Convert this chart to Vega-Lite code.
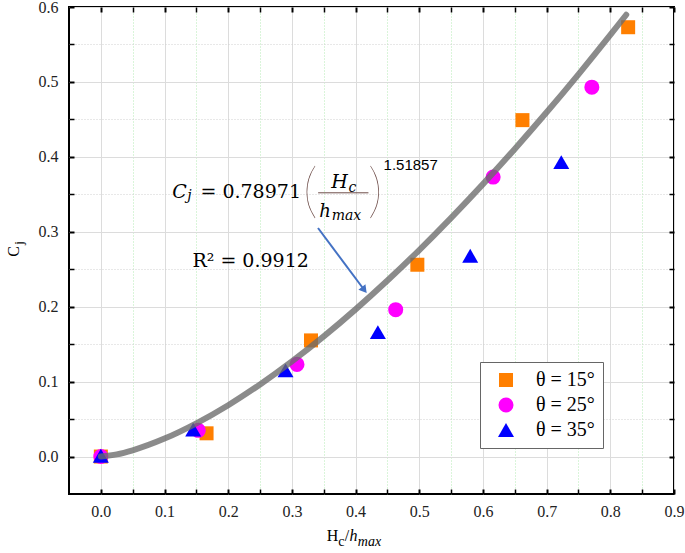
{
  "$schema": "https://vega.github.io/schema/vega-lite/v6.json",
  "width": 605,
  "height": 487,
  "autosize": "none",
  "padding": {"left": 69, "top": 7, "right": 11, "bottom": 59},
  "background": "white",
  "config": {"view": {"stroke": "black", "strokeWidth": 2}, "font": "Liberation Serif"},
  "datasets": {
    "points": [
      {"x": 0.0, "y": 0.0, "theta": "θ = 15°"},
      {"x": 0.166, "y": 0.031, "theta": "θ = 15°"},
      {"x": 0.33, "y": 0.155, "theta": "θ = 15°"},
      {"x": 0.497, "y": 0.256, "theta": "θ = 15°"},
      {"x": 0.662, "y": 0.449, "theta": "θ = 15°"},
      {"x": 0.828, "y": 0.573, "theta": "θ = 15°"},
      {"x": 0.0, "y": 0.0, "theta": "θ = 25°"},
      {"x": 0.153, "y": 0.035, "theta": "θ = 25°"},
      {"x": 0.308, "y": 0.123, "theta": "θ = 25°"},
      {"x": 0.463, "y": 0.196, "theta": "θ = 25°"},
      {"x": 0.616, "y": 0.373, "theta": "θ = 25°"},
      {"x": 0.771, "y": 0.493, "theta": "θ = 25°"},
      {"x": 0.0, "y": 0.001, "theta": "θ = 35°"},
      {"x": 0.145, "y": 0.036, "theta": "θ = 35°"},
      {"x": 0.29, "y": 0.115, "theta": "θ = 35°"},
      {"x": 0.435, "y": 0.166, "theta": "θ = 35°"},
      {"x": 0.58, "y": 0.268, "theta": "θ = 35°"},
      {"x": 0.723, "y": 0.393, "theta": "θ = 35°"}
    ],
    "fit": [
      {"x": 0.0, "y": 0.0},
      {"x": 0.025, "y": 0.00292},
      {"x": 0.05, "y": 0.00835},
      {"x": 0.1, "y": 0.02393},
      {"x": 0.15, "y": 0.04429},
      {"x": 0.2, "y": 0.06854},
      {"x": 0.25, "y": 0.09619},
      {"x": 0.3, "y": 0.12689},
      {"x": 0.35, "y": 0.16034},
      {"x": 0.4, "y": 0.19642},
      {"x": 0.45, "y": 0.23488},
      {"x": 0.5, "y": 0.27563},
      {"x": 0.55, "y": 0.31856},
      {"x": 0.6, "y": 0.36356},
      {"x": 0.65, "y": 0.41056},
      {"x": 0.7, "y": 0.45945},
      {"x": 0.75, "y": 0.51019},
      {"x": 0.8, "y": 0.56275},
      {"x": 0.825, "y": 0.58967}
    ],
    "notes": [
      {"x": 0.112, "y": 0.345, "label": "C", "part": "it"},
      {"x": 0.3618, "y": 0.3587, "label": "H", "part": "it"},
      {"x": 0.3428, "y": 0.32, "label": "h", "part": "ith"},
      {"x": 0.1355, "y": 0.3427, "label": "j", "part": "sub"},
      {"x": 0.389, "y": 0.3533, "label": "c", "part": "sub"},
      {"x": 0.3625, "y": 0.316, "label": "max", "part": "sub"},
      {"x": 0.1564, "y": 0.345, "label": "= 0.78971", "part": "txt"},
      {"x": 0.1438, "y": 0.2533, "label": "R² = 0.9912", "part": "txt"},
      {"x": 0.329, "y": 0.3513, "label": "(", "part": "paren"},
      {"x": 0.431, "y": 0.3513, "label": ")", "part": "paren"},
      {"x": 0.4439, "y": 0.3827, "label": "1.51857", "part": "sup"},
      {"x": 0.3548, "y": -0.1133, "label": "H", "part": "xt"},
      {"x": 0.383, "y": -0.1133, "label": "/", "part": "xt"},
      {"x": 0.3728, "y": -0.12, "label": "c", "part": "xtsub"},
      {"x": 0.3905, "y": -0.1133, "label": "h", "part": "xtit"},
      {"x": 0.4035, "y": -0.12, "label": "max", "part": "xtitsub"}
    ],
    "ytitle": [
      {"x": -0.128, "y": 0.2667, "label": "C", "part": "yt"},
      {"x": -0.123, "y": 0.2827, "label": "j", "part": "ytsub"}
    ],
    "frac": [{"x": 0.3412, "x2": 0.4202, "y": 0.352}],
    "arrow": [{"x": 0.341, "y": 0.305, "x2": 0.4137, "y2": 0.2223}]
  },
  "layer": [
    {
      "data": {"name": "points"},
      "mark": {"type": "point", "filled": true, "opacity": 1},
      "encoding": {
        "x": {
          "field": "x", "type": "quantitative",
          "scale": {"domain": [-0.05, 0.9], "nice": false, "zero": false},
          "axis": {
            "orient": "bottom", "title": null, "domain": false,
            "values": [0, 0.05, 0.1, 0.15, 0.2, 0.25, 0.3, 0.35, 0.4, 0.45, 0.5, 0.55, 0.6, 0.65, 0.7, 0.75, 0.8, 0.85, 0.9],
            "labelExpr": "abs(datum.value*10 - round(datum.value*10)) < 0.25 ? format(datum.value, '.1f') : ''",
            "labelFlush": false, "labelOverlap": false,
            "labelFont": "Liberation Serif", "labelFontSize": 16, "labelColor": "#222222", "labelPadding": 14,
            "tickSize": -5, "tickColor": "black",
            "tickWidth": {"condition": {"test": "abs(datum.value*10 - round(datum.value*10)) > 0.25", "value": 1.5}, "value": 2},
            "grid": true,
            "gridColor": {"condition": {"test": "abs(datum.value*10 - round(datum.value*10)) > 0.25", "value": "#b5eab5"}, "value": "#dcdcdc"},
            "gridDash": {"condition": {"test": "abs(datum.value*10 - round(datum.value*10)) > 0.25", "value": [1, 2]}, "value": []},
            "gridWidth": 1
          }
        },
        "y": {
          "field": "y", "type": "quantitative",
          "scale": {"domain": [-0.05, 0.6], "nice": false, "zero": false},
          "axis": {
            "orient": "left", "title": null, "domain": false,
            "values": [0, 0.05, 0.1, 0.15, 0.2, 0.25, 0.3, 0.35, 0.4, 0.45, 0.5, 0.55, 0.6],
            "labelExpr": "abs(datum.value*10 - round(datum.value*10)) < 0.25 ? format(datum.value, '.1f') : ''",
            "labelFlush": false, "labelOverlap": false,
            "labelFont": "Liberation Serif", "labelFontSize": 16, "labelColor": "#222222", "labelPadding": 16,
            "tickSize": -5, "tickColor": "black",
            "tickWidth": {"condition": {"test": "abs(datum.value*10 - round(datum.value*10)) > 0.25", "value": 1.5}, "value": 2},
            "grid": true,
            "gridColor": {"condition": {"test": "abs(datum.value*10 - round(datum.value*10)) > 0.25", "value": "#d0d0d0"}, "value": "#dcdcdc"},
            "gridDash": {"condition": {"test": "abs(datum.value*10 - round(datum.value*10)) > 0.25", "value": [1, 2]}, "value": []},
            "gridWidth": 1
          }
        },
        "color": {
          "field": "theta", "type": "nominal",
          "scale": {"domain": ["θ = 15°", "θ = 25°", "θ = 35°"], "range": ["#ff7f00", "#ff00ff", "#0000ff"]},
          "legend": {
            "title": null, "orient": "none", "legendX": 411, "legendY": 355, "direction": "vertical",
            "strokeColor": "#666666", "fillColor": "white", "padding": 8,
            "labelFont": "Liberation Serif", "labelFontSize": 20, "labelColor": "black",
            "rowPadding": 5, "labelOffset": 20, "symbolOffset": 8, "symbolStrokeWidth": 0, "symbolOpacity": 1
          }
        },
        "shape": {
          "field": "theta", "type": "nominal",
          "scale": {"domain": ["θ = 15°", "θ = 25°", "θ = 35°"], "range": ["square", "circle", "triangle-up"]}
        },
        "size": {
          "field": "theta", "type": "nominal",
          "scale": {"domain": ["θ = 15°", "θ = 25°", "θ = 35°"], "range": [196, 256, 324]}
        }
      }
    },
    {
      "data": {"name": "fit"},
      "mark": {"type": "line", "color": "#6a6a6a", "strokeWidth": 6, "opacity": 0.78, "strokeCap": "round", "interpolate": "monotone"},
      "encoding": {
        "x": {
          "field": "x", "type": "quantitative",
          "scale": {"domain": [-0.05, 0.9], "nice": false, "zero": false},
          "axis": {
            "orient": "top", "title": null, "domain": false, "labels": false, "grid": false,
            "values": [0, 0.05, 0.1, 0.15, 0.2, 0.25, 0.3, 0.35, 0.4, 0.45, 0.5, 0.55, 0.6, 0.65, 0.7, 0.75, 0.8, 0.85, 0.9],
            "tickSize": -5, "tickColor": "black",
            "tickWidth": {"condition": {"test": "abs(datum.value*10 - round(datum.value*10)) > 0.25", "value": 1.5}, "value": 2}
          }
        },
        "y": {
          "field": "y", "type": "quantitative",
          "scale": {"domain": [-0.05, 0.6], "nice": false, "zero": false},
          "axis": {
            "orient": "right", "title": null, "domain": false, "labels": false, "grid": false,
            "values": [0, 0.05, 0.1, 0.15, 0.2, 0.25, 0.3, 0.35, 0.4, 0.45, 0.5, 0.55, 0.6],
            "tickSize": -5, "tickColor": "black",
            "tickWidth": {"condition": {"test": "abs(datum.value*10 - round(datum.value*10)) > 0.25", "value": 1.5}, "value": 2}
          }
        }
      }
    },
    {
      "data": {"name": "frac"},
      "mark": {"type": "rule", "color": "#6d4c48", "strokeWidth": 1},
      "encoding": {
        "x": {"field": "x", "type": "quantitative", "scale": {"domain": [-0.05, 0.9], "nice": false, "zero": false}, "axis": null},
        "x2": {"field": "x2"},
        "y": {"field": "y", "type": "quantitative", "scale": {"domain": [-0.05, 0.6], "nice": false, "zero": false}, "axis": null}
      }
    },
    {
      "data": {"name": "arrow"},
      "mark": {"type": "rule", "color": "#4472c4", "strokeWidth": 2},
      "encoding": {
        "x": {"field": "x", "type": "quantitative", "scale": {"domain": [-0.05, 0.9], "nice": false, "zero": false}, "axis": null},
        "x2": {"field": "x2"},
        "y": {"field": "y", "type": "quantitative", "scale": {"domain": [-0.05, 0.6], "nice": false, "zero": false}, "axis": null},
        "y2": {"field": "y2"}
      }
    },
    {
      "data": {"name": "arrow"},
      "mark": {"type": "point", "shape": "triangle-up", "filled": true, "color": "#4472c4", "opacity": 1, "size": 80, "angle": 142},
      "encoding": {
        "x": {"field": "x2", "type": "quantitative", "scale": {"domain": [-0.05, 0.9], "nice": false, "zero": false}, "axis": null},
        "y": {"field": "y2", "type": "quantitative", "scale": {"domain": [-0.05, 0.6], "nice": false, "zero": false}, "axis": null}
      }
    },
    {
      "data": {"name": "notes"},
      "transform": [{"filter": "datum.part == 'it'"}],
      "mark": {"type": "text", "font": "DejaVu Serif", "fontStyle": "italic", "fontSize": 19, "align": "left", "baseline": "alphabetic", "color": "black"},
      "encoding": {
        "x": {"field": "x", "type": "quantitative", "scale": {"domain": [-0.05, 0.9], "nice": false, "zero": false}, "axis": null},
        "y": {"field": "y", "type": "quantitative", "scale": {"domain": [-0.05, 0.6], "nice": false, "zero": false}, "axis": null},
        "text": {"field": "label"}
      }
    },
    {
      "data": {"name": "notes"},
      "transform": [{"filter": "datum.part == 'ith'"}],
      "mark": {"type": "text", "font": "DejaVu Serif", "fontStyle": "italic", "fontSize": 18, "align": "left", "baseline": "alphabetic", "color": "black"},
      "encoding": {
        "x": {"field": "x", "type": "quantitative", "scale": {"domain": [-0.05, 0.9], "nice": false, "zero": false}, "axis": null},
        "y": {"field": "y", "type": "quantitative", "scale": {"domain": [-0.05, 0.6], "nice": false, "zero": false}, "axis": null},
        "text": {"field": "label"}
      }
    },
    {
      "data": {"name": "notes"},
      "transform": [{"filter": "datum.part == 'sub'"}],
      "mark": {"type": "text", "font": "DejaVu Serif", "fontStyle": "italic", "fontSize": 14, "align": "left", "baseline": "alphabetic", "color": "black"},
      "encoding": {
        "x": {"field": "x", "type": "quantitative", "scale": {"domain": [-0.05, 0.9], "nice": false, "zero": false}, "axis": null},
        "y": {"field": "y", "type": "quantitative", "scale": {"domain": [-0.05, 0.6], "nice": false, "zero": false}, "axis": null},
        "text": {"field": "label"}
      }
    },
    {
      "data": {"name": "notes"},
      "transform": [{"filter": "datum.part == 'txt'"}],
      "mark": {"type": "text", "font": "DejaVu Serif", "fontSize": 19, "align": "left", "baseline": "alphabetic", "color": "black"},
      "encoding": {
        "x": {"field": "x", "type": "quantitative", "scale": {"domain": [-0.05, 0.9], "nice": false, "zero": false}, "axis": null},
        "y": {"field": "y", "type": "quantitative", "scale": {"domain": [-0.05, 0.6], "nice": false, "zero": false}, "axis": null},
        "text": {"field": "label"}
      }
    },
    {
      "data": {"name": "notes"},
      "transform": [{"filter": "datum.part == 'paren'"}],
      "mark": {"type": "text", "font": "Lato", "fontWeight": 100, "fontSize": 60, "align": "center", "baseline": "middle", "color": "#6d4c48"},
      "encoding": {
        "x": {"field": "x", "type": "quantitative", "scale": {"domain": [-0.05, 0.9], "nice": false, "zero": false}, "axis": null},
        "y": {"field": "y", "type": "quantitative", "scale": {"domain": [-0.05, 0.6], "nice": false, "zero": false}, "axis": null},
        "text": {"field": "label"}
      }
    },
    {
      "data": {"name": "notes"},
      "transform": [{"filter": "datum.part == 'sup'"}],
      "mark": {"type": "text", "font": "Liberation Sans", "fontSize": 15, "align": "left", "baseline": "alphabetic", "color": "black"},
      "encoding": {
        "x": {"field": "x", "type": "quantitative", "scale": {"domain": [-0.05, 0.9], "nice": false, "zero": false}, "axis": null},
        "y": {"field": "y", "type": "quantitative", "scale": {"domain": [-0.05, 0.6], "nice": false, "zero": false}, "axis": null},
        "text": {"field": "label"}
      }
    },
    {
      "data": {"name": "notes"},
      "transform": [{"filter": "datum.part == 'xt'"}],
      "mark": {"type": "text", "font": "Liberation Serif", "fontSize": 16, "align": "left", "baseline": "alphabetic", "color": "black"},
      "encoding": {
        "x": {"field": "x", "type": "quantitative", "scale": {"domain": [-0.05, 0.9], "nice": false, "zero": false}, "axis": null},
        "y": {"field": "y", "type": "quantitative", "scale": {"domain": [-0.05, 0.6], "nice": false, "zero": false}, "axis": null},
        "text": {"field": "label"}
      }
    },
    {
      "data": {"name": "notes"},
      "transform": [{"filter": "datum.part == 'xtsub'"}],
      "mark": {"type": "text", "font": "Liberation Serif", "fontSize": 14, "align": "left", "baseline": "alphabetic", "color": "black"},
      "encoding": {
        "x": {"field": "x", "type": "quantitative", "scale": {"domain": [-0.05, 0.9], "nice": false, "zero": false}, "axis": null},
        "y": {"field": "y", "type": "quantitative", "scale": {"domain": [-0.05, 0.6], "nice": false, "zero": false}, "axis": null},
        "text": {"field": "label"}
      }
    },
    {
      "data": {"name": "notes"},
      "transform": [{"filter": "datum.part == 'xtit'"}],
      "mark": {"type": "text", "font": "Liberation Serif", "fontStyle": "italic", "fontSize": 16, "align": "left", "baseline": "alphabetic", "color": "black"},
      "encoding": {
        "x": {"field": "x", "type": "quantitative", "scale": {"domain": [-0.05, 0.9], "nice": false, "zero": false}, "axis": null},
        "y": {"field": "y", "type": "quantitative", "scale": {"domain": [-0.05, 0.6], "nice": false, "zero": false}, "axis": null},
        "text": {"field": "label"}
      }
    },
    {
      "data": {"name": "notes"},
      "transform": [{"filter": "datum.part == 'xtitsub'"}],
      "mark": {"type": "text", "font": "Liberation Serif", "fontStyle": "italic", "fontSize": 14, "align": "left", "baseline": "alphabetic", "color": "black"},
      "encoding": {
        "x": {"field": "x", "type": "quantitative", "scale": {"domain": [-0.05, 0.9], "nice": false, "zero": false}, "axis": null},
        "y": {"field": "y", "type": "quantitative", "scale": {"domain": [-0.05, 0.6], "nice": false, "zero": false}, "axis": null},
        "text": {"field": "label"}
      }
    },
    {
      "data": {"name": "ytitle"},
      "transform": [{"filter": "datum.part == 'yt'"}],
      "mark": {"type": "text", "font": "Liberation Serif", "fontSize": 16, "align": "left", "baseline": "alphabetic", "angle": 270, "color": "black"},
      "encoding": {
        "x": {"field": "x", "type": "quantitative", "scale": {"domain": [-0.05, 0.9], "nice": false, "zero": false}, "axis": null},
        "y": {"field": "y", "type": "quantitative", "scale": {"domain": [-0.05, 0.6], "nice": false, "zero": false}, "axis": null},
        "text": {"field": "label"}
      }
    },
    {
      "data": {"name": "ytitle"},
      "transform": [{"filter": "datum.part == 'ytsub'"}],
      "mark": {"type": "text", "font": "Liberation Serif", "fontSize": 13, "align": "left", "baseline": "alphabetic", "angle": 270, "color": "black"},
      "encoding": {
        "x": {"field": "x", "type": "quantitative", "scale": {"domain": [-0.05, 0.9], "nice": false, "zero": false}, "axis": null},
        "y": {"field": "y", "type": "quantitative", "scale": {"domain": [-0.05, 0.6], "nice": false, "zero": false}, "axis": null},
        "text": {"field": "label"}
      }
    }
  ],
  "resolve": {"axis": {"x": "independent", "y": "independent"}}
}
